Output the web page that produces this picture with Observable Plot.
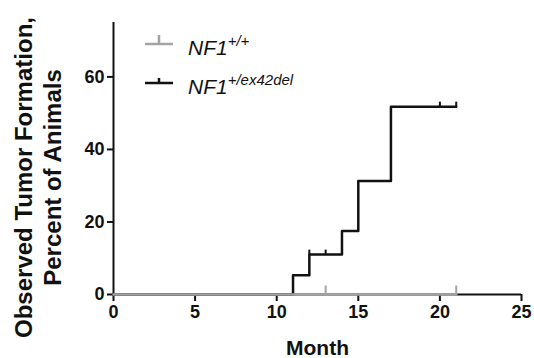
<!DOCTYPE html>
<html><head><meta charset="utf-8">
<script src="https://cdn.jsdelivr.net/npm/d3@7"></script>
<script src="https://cdn.jsdelivr.net/npm/@observablehq/plot@0.6"></script>
<style>
body{margin:0;background:#fff;font-family:"Liberation Sans",Arial,sans-serif;}
#wrap{position:relative;width:534px;height:358px;}
#legend{position:absolute;left:0;top:0;}
</style></head>
<body><div id="wrap"></div>
<script>
// Series: NF1 +/ex42del (step curve)
const mutMonths = [0, 11, 12, 14, 15, 17, 21];
const mutValues = [0, 5.3, 11, 17.5, 31.3, 51.8, 51.8];
// censor marks
const mutCensorMonths = [12, 13, 20, 21];
const mutCensorValues = [11, 11, 51.8, 51.8];
// Series: NF1 +/+
const wtMonths = [0, 21];
const wtValues = [0, 0];
const wtCensorMonths = [13, 21];
const wtCensorValues = [0, 0];
const xTicks = [0, 5, 10, 15, 20, 25];
const yTicks = [0, 20, 40, 60];
const legendLabels = [{base: "NF1", sup: "+/+"}, {base: "NF1", sup: "+/ex42del"}];

const mut = mutMonths.map((m, i) => ({month: m, value: mutValues[i]}));
const mutC = mutCensorMonths.map((m, i) => ({month: m, value: mutCensorValues[i]}));
const wt = wtMonths.map((m, i) => ({month: m, value: wtValues[i]}));
const wtC = wtCensorMonths.map((m, i) => ({month: m, value: wtCensorValues[i]}));

const GRAY = "#a3a3a3";
const tickUp = (h) => ({draw(ctx) { ctx.moveTo(0, 0); ctx.lineTo(0, -h); }});

const chart = Plot.plot({
  width: 534, height: 358,
  marginLeft: 113, marginRight: 13, marginTop: 22, marginBottom: 64,
  style: {fontFamily: "Liberation Sans, Arial, sans-serif", background: "#fff"},
  x: {domain: [0, 25]},
  y: {domain: [0, 75]},
  marks: [
    Plot.axisX({ticks: xTicks, tickSize: 7, tickPadding: 4, tickFormat: d => d, fontSize: 18, fontWeight: "bold", stroke: "#111", strokeWidth: 2, color: "#111", label: null}),
    Plot.axisY({ticks: yTicks, tickSize: 6, tickPadding: 3, tickFormat: d => d, fontSize: 18, fontWeight: "bold", stroke: "#111", strokeWidth: 2, color: "#111", label: null}),
    Plot.ruleY([0], {stroke: "#111", strokeWidth: 2}),
    Plot.ruleX([0], {y1: 0, y2: 75, stroke: "#111", strokeWidth: 2}),
    Plot.line(mut, {x: "month", y: "value", curve: "step-after", stroke: "#111", strokeWidth: 2.5}),
    Plot.line(wt, {x: "month", y: "value", curve: "step-after", stroke: GRAY, strokeWidth: 2.5}),
    Plot.dot(mutC, {x: "month", y: "value", symbol: tickUp(5), r: 4, stroke: "#111", strokeWidth: 2, fill: "none"}),
    Plot.dot(wtC, {x: "month", y: "value", symbol: tickUp(9), r: 4, stroke: GRAY, strokeWidth: 2, fill: "none"}),
    Plot.text(["Month"], {frameAnchor: "bottom", dy: 60, lineAnchor: "bottom", fontSize: 21, fontWeight: "bold", fill: "#111"}),
    Plot.text(["Observed Tumor Formation,\nPercent of Animals"], {frameAnchor: "left", dx: -76, dy: 19, rotate: -90, textAnchor: "middle", lineAnchor: "middle", lineHeight: 1.2, fontSize: 24, fontWeight: "bold", fill: "#111"})
  ]
});
const wrap = document.getElementById("wrap");
wrap.appendChild(chart);

// legend overlay
const ns = "http://www.w3.org/2000/svg";
const lg = document.createElementNS(ns, "svg");
lg.setAttribute("id", "legend");
lg.setAttribute("width", 534); lg.setAttribute("height", 120);
const cols = [GRAY, "#111"];
const ys = [44, 83];
const tickH = [9, 5];
legendLabels.forEach((l, i) => {
  const y = ys[i];
  const p = document.createElementNS(ns, "path");
  p.setAttribute("d", `M145,${y}H173M159,${y}V${y - tickH[i]}`);
  p.setAttribute("stroke", cols[i]); p.setAttribute("stroke-width", 2.5); p.setAttribute("fill", "none");
  lg.appendChild(p);
  const t = document.createElementNS(ns, "text");
  t.setAttribute("x", 188); t.setAttribute("y", y + 11);
  t.setAttribute("font-family", "Liberation Sans, Arial, sans-serif");
  t.setAttribute("font-style", "italic"); t.setAttribute("font-size", 21); t.setAttribute("fill", "#111");
  t.textContent = l.base;
  const s = document.createElementNS(ns, "tspan");
  s.setAttribute("dy", -9); s.setAttribute("font-size", 15);
  s.textContent = l.sup;
  t.appendChild(s);
  lg.appendChild(t);
});
wrap.appendChild(lg);
</script></body></html>
